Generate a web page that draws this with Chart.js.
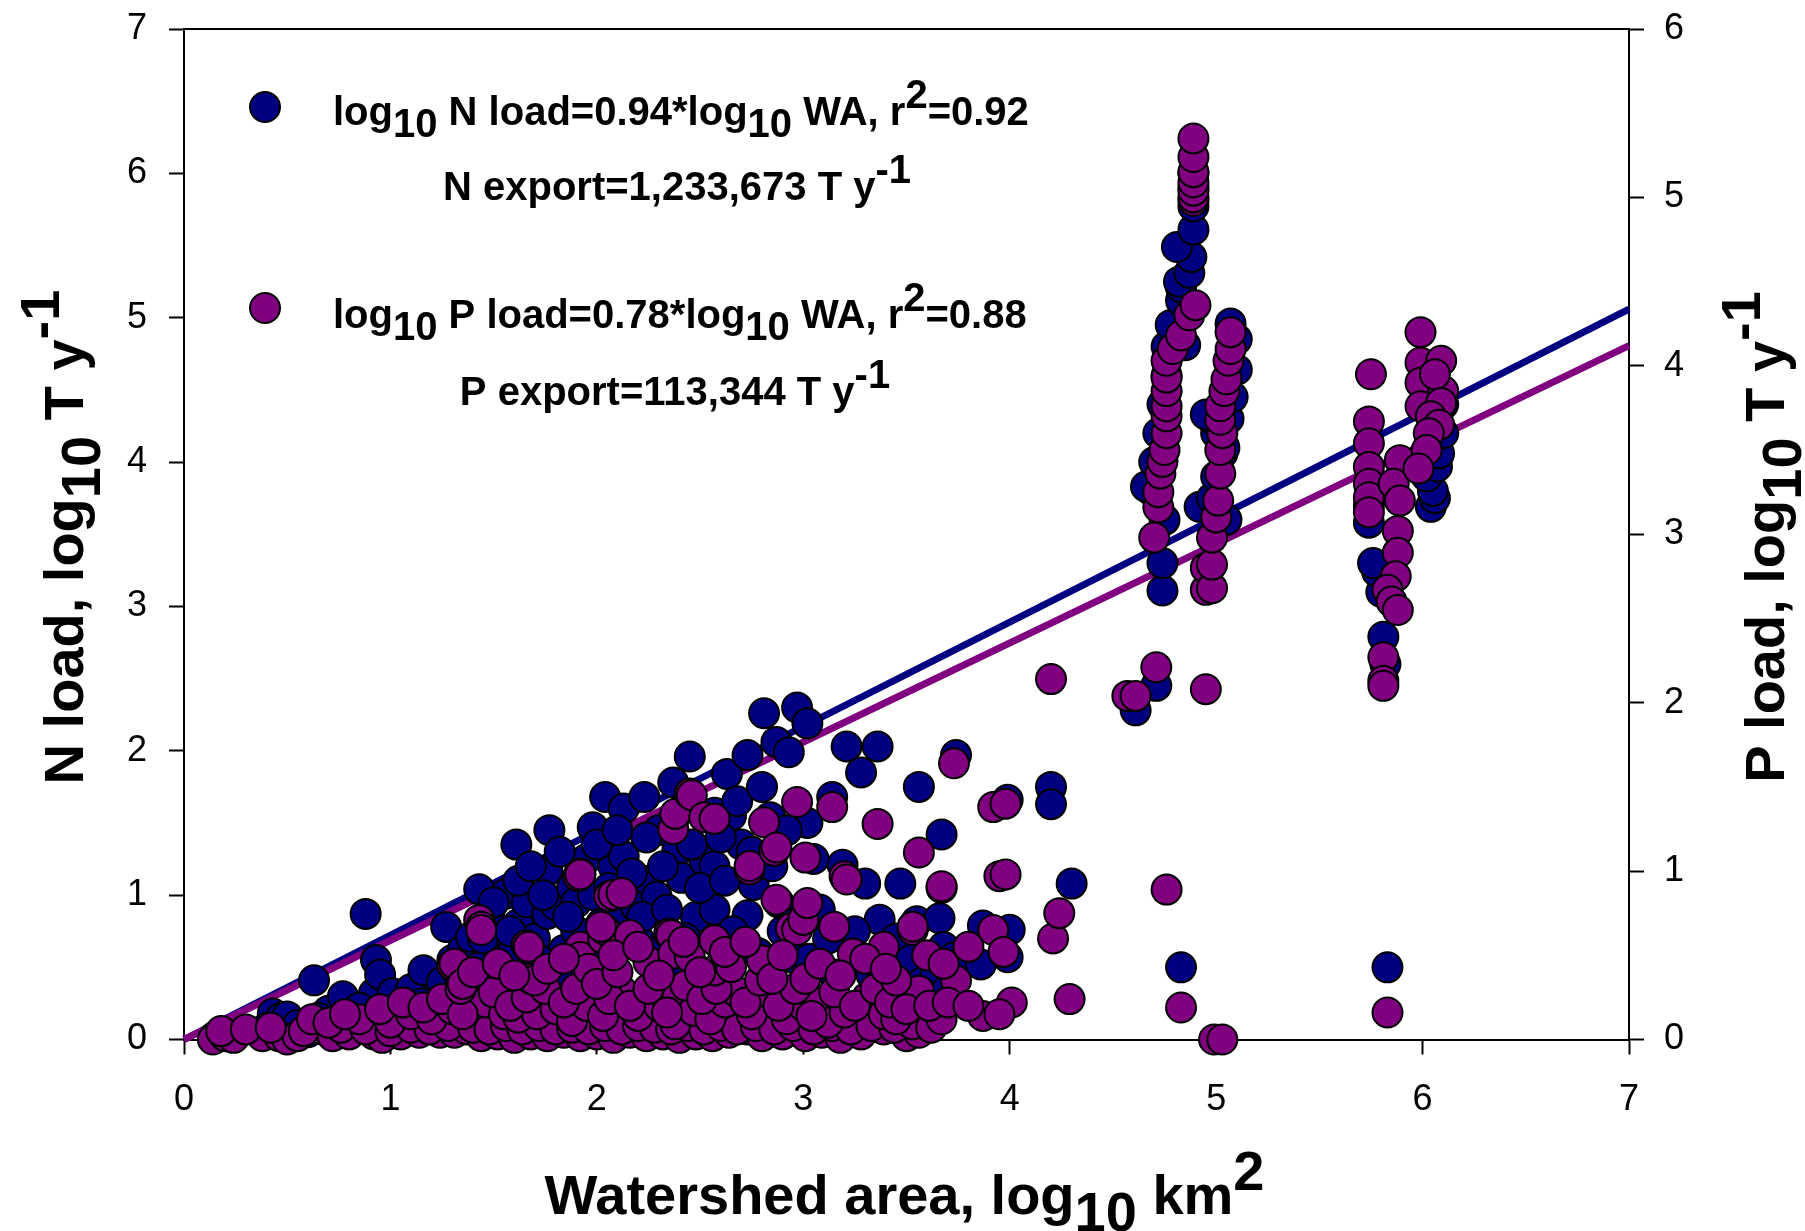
<!DOCTYPE html>
<html>
<head>
<meta charset="utf-8">
<title>N and P load vs watershed area</title>
<script src="https://cdn.jsdelivr.net/npm/chart.js@4.4.0/dist/chart.umd.min.js"></script>
<style>
html, body { margin: 0; padding: 0; background: #fff; }
#wrap { width: 1805px; height: 1231px; }
</style>
</head>
<body>
<div id="wrap"><canvas id="loadChart" width="1805" height="1231"></canvas></div>
<script>
// axis ticks
var xTicks = [0, 1, 2, 3, 4, 5, 6, 7];
var nTicks = [0, 1, 2, 3, 4, 5, 6, 7];
var pTicks = [0, 1, 2, 3, 4, 5, 6];

// fitted lines (x = log10 WA)
var fitX = [0, 7];
var nFit = [0, 5.06];   // left axis
var pFit = [0, 4.12];   // right axis

// N load, [log10 WA, log10 T/y] - small and mid sized watersheds
var nCloud = [
  [0.15,0.02],[0.25,0.03],[0.43,0.18],[0.47,0.15],[0.50,0.16],[0.55,0.10],[0.60,0.05],[0.63,0.41],
  [0.70,0.20],[0.77,0.30],[0.88,0.87],[0.92,0.32],[0.93,0.55],[0.95,0.45],[1.01,0.32],[1.05,0.20],
  [1.10,0.35],[1.16,0.48],[1.20,0.10],[1.22,0.30],[1.27,0.78],[1.30,0.55],[1.35,0.62],[1.39,0.71],
  [1.43,1.04],[1.43,0.50],[1.48,0.85],[1.50,0.20],[1.53,0.60],[1.56,1.01],[1.56,0.50],[1.59,0.60],
  [1.61,1.35],[1.62,0.80],[1.66,0.95],[1.70,0.70],[1.76,1.17],[1.76,0.87],[1.77,1.45],[1.80,0.93],
  [1.80,0.30],[1.84,0.62],[1.88,1.05],[1.90,0.75],[1.90,0.95],[1.95,1.25],[1.98,1.47],[2.00,0.20],
  [2.02,0.80],[2.04,1.68],[2.08,1.20],[2.10,0.88],[2.13,1.60],[2.13,1.27],[2.15,1.00],[2.19,0.92],
  [2.20,0.70],[2.23,1.68],[2.25,1.10],[2.29,0.99],[2.30,1.45],[2.35,0.50],[2.37,1.78],[2.39,1.31],
  [2.40,0.30],[2.41,1.12],[2.45,1.96],[2.48,0.85],[2.52,1.24],[2.57,1.57],[2.57,1.20],[2.57,0.90],
  [2.60,0.65],[2.63,1.84],[2.65,1.55],[2.70,1.35],[2.70,0.25],[2.73,1.97],[2.73,0.86],[2.76,1.07],
  [2.81,2.26],[2.84,1.54],[2.87,2.06],[2.90,0.75],[2.93,1.99],[2.96,0.56],[2.97,2.30],[3.02,2.19],
  [3.02,1.50],[3.03,0.56],[3.08,0.90],[3.10,0.20],[3.14,1.68],[3.19,1.21],[3.21,2.03],[3.28,1.85],
  [3.30,1.08],[3.36,2.03],[3.37,0.83],[3.40,0.20],[3.40,0.60],[3.42,0.53],[3.47,1.08],[3.50,0.35],
  [3.55,0.82],[3.56,1.75],[3.62,0.56],[3.66,0.84],[3.67,1.42],[3.68,0.64],[3.73,0.57],[3.74,1.97],
  [3.77,0.54],[3.86,0.52],[3.87,0.79],[3.99,0.57],[3.99,1.66],[4.00,0.76],[4.20,1.75],[4.20,1.63],
  [4.30,1.08],
  [1.25,0.40],[1.33,0.45],[1.38,0.35],[1.45,0.70],[1.50,0.95],[1.52,0.40],[1.58,0.75],[1.62,1.10],
  [1.65,0.45],[1.68,1.20],[1.72,0.55],[1.74,1.00],[1.82,1.30],[1.85,0.45],[1.86,0.85],[1.92,1.15],
  [1.94,0.60],[1.98,1.00],[2.00,1.35],[2.05,0.55],[2.06,1.05],[2.10,1.45],[2.12,0.65],[2.17,1.15],
  [2.22,0.85],[2.24,1.40],[2.27,0.60],[2.32,1.20],[2.34,0.90],[2.38,1.55],[2.43,0.70],[2.46,1.35],
  [2.50,1.05],[2.55,0.45],[2.60,1.40],[2.62,1.10],[2.66,0.75],[2.68,1.65],[2.75,1.30],[2.78,0.60],
  [2.80,1.75],[2.85,1.20],[2.88,0.95],[2.92,1.45],[2.95,0.80],[3.05,1.25],[3.12,0.70],[3.15,0.45],
  [3.25,0.75],[3.33,0.45],[3.45,0.70],[3.52,0.55],[3.58,0.40],[3.64,0.45],[3.70,0.35],[1.15,0.25],
  [1.00,0.15],[0.85,0.22],[0.80,0.10],[0.65,0.15],[0.40,0.08]
];

// N load - large rivers
var nRivers = [
  [4.61,2.28],[4.71,2.45],[4.83,0.50],[5.83,0.50],
  [4.74,3.11],[4.74,3.30],[4.75,3.60],[4.69,3.80],[4.66,3.83],[4.70,4.00],[4.72,4.20],[4.74,4.40],
  [4.76,4.60],[4.76,4.80],[4.85,4.81],[4.78,4.95],[4.83,5.12],[4.83,5.21],[4.82,5.25],[4.87,5.31],
  [4.88,5.42],[4.81,5.49],[4.89,5.61],[4.89,5.77],[4.89,5.90],[4.89,6.00],
  [4.92,3.69],[4.98,3.75],[5.05,3.60],[5.00,3.90],[5.03,4.06],[5.04,4.10],[5.00,4.20],[4.98,4.30],
  [5.06,4.30],[4.95,4.33],[5.08,4.45],[5.10,4.64],[5.10,4.85],[5.07,4.96],
  [5.82,2.60],[5.81,2.79],[5.80,3.10],[5.78,3.24],[5.76,3.30],[5.74,3.58],[5.74,3.70],
  [6.04,3.69],[6.06,3.75],[6.05,3.80],[6.02,3.90],[6.07,3.97],[6.08,4.06],[6.10,4.20],[6.10,4.40],
  [6.09,4.50]
];

// P load, [log10 WA, log10 T/y] - small and mid sized watersheds
var pCloud = [
  [0.14,0.00],[0.20,0.02],[0.24,0.01],[0.38,0.02],[0.46,0.02],[0.50,0.00],[0.55,0.02],[0.67,0.06],
  [0.72,0.02],[0.80,0.03],[0.92,0.03],[0.96,0.01],[1.05,0.03],[1.14,0.04],[1.24,0.04],[1.31,0.04],
  [1.37,0.06],[1.44,0.02],[1.52,0.03],[1.60,0.01],[1.68,0.03],[1.76,0.02],[1.84,0.04],[1.92,0.02],
  [2.00,0.03],[2.08,0.01],[2.16,0.04],[2.24,0.02],[2.32,0.03],[2.40,0.01],[2.48,0.03],[2.56,0.02],
  [2.64,0.04],[2.73,0.06],[2.80,0.02],[2.90,0.03],[3.01,0.02],[3.09,0.04],[3.18,0.01],[3.28,0.03],
  [3.39,0.06],[3.50,0.02],[3.56,0.04],
  [0.18,0.05],[0.30,0.06],[0.42,0.07],[0.58,0.05],[0.76,0.07],[0.88,0.06],[1.00,0.05],[1.10,0.07],
  [1.19,0.06],[1.28,0.08],[1.40,0.07],[1.48,0.06],[1.56,0.08],[1.64,0.06],[1.72,0.08],[1.80,0.06],
  [1.88,0.07],[1.96,0.06],[2.04,0.08],[2.12,0.06],[2.20,0.08],[2.28,0.07],[2.36,0.06],[2.44,0.08],
  [2.52,0.06],[2.60,0.08],[2.68,0.06],[2.77,0.08],[2.86,0.06],[2.95,0.08],[3.05,0.06],[3.14,0.08],
  [3.23,0.06],[3.33,0.08],[3.44,0.07],[3.53,0.09],[3.62,0.07],
  [0.62,0.12],[0.70,0.10],[0.85,0.12],[1.00,0.10],[1.10,0.15],[1.20,0.12],[1.30,0.18],[1.41,0.23],
  [1.46,0.22],[1.55,0.15],[1.62,0.13],[1.71,0.15],[1.80,0.18],[1.88,0.11],[1.95,0.20],[2.03,0.14],
  [2.12,0.29],[2.20,0.14],[2.30,0.20],[2.38,0.09],[2.39,0.25],[2.47,0.17],[2.55,0.12],[2.62,0.22],
  [2.68,0.28],[2.75,0.15],[2.83,0.28],[2.92,0.12],[3.00,0.20],[3.06,0.22],[3.12,0.10],[3.20,0.16],
  [3.31,0.25],[3.39,0.15],[3.45,0.12],[3.56,0.29],[3.67,0.12],[3.74,0.35],[3.87,0.14],[4.01,0.22],
  [4.29,0.24],
  [0.78,0.15],[0.95,0.18],[1.06,0.22],[1.16,0.19],[1.25,0.24],[1.35,0.15],[1.50,0.28],[1.58,0.20],
  [1.66,0.25],[1.75,0.30],[1.84,0.22],[1.90,0.30],[2.06,0.24],[2.16,0.20],[2.25,0.30],[2.34,0.16],
  [2.43,0.32],[2.51,0.24],[2.58,0.30],[2.72,0.22],[2.79,0.35],[2.88,0.20],[2.96,0.30],[3.04,0.14],
  [3.15,0.28],[3.25,0.20],[3.35,0.30],[3.42,0.22],[3.50,0.18],[3.61,0.20],[3.70,0.22],[3.80,0.20],
  [3.95,0.15],
  [1.30,0.44],[1.31,0.45],[1.34,0.30],[1.35,0.33],[1.43,0.71],[1.44,0.67],[1.44,0.65],[1.66,0.56],
  [1.67,0.55],[1.68,0.36],[1.70,0.35],[1.92,0.55],[1.92,0.49],[1.96,0.42],[2.00,0.33],[2.03,0.60],
  [2.04,0.65],[2.10,0.40],[2.16,0.62],[2.02,0.67],[2.25,0.46],[2.35,0.63],[2.36,0.62],[2.37,0.51],
  [2.45,0.49],[2.57,0.59],[2.57,0.41],[2.65,0.43],[2.80,0.47],[2.85,0.36],[2.94,0.66],[2.97,0.65],
  [3.00,0.71],[3.01,0.36],[3.15,0.67],[3.24,0.51],[3.39,0.55],[3.45,0.35],[3.53,0.65],[3.53,0.67],
  [3.92,0.65],[3.97,0.52],[4.21,0.60],[4.24,0.75],
  [1.40,0.40],[1.52,0.45],[1.60,0.38],[1.76,0.42],[1.84,0.48],[2.08,0.50],[2.20,0.55],[2.30,0.38],
  [2.42,0.58],[2.50,0.40],[2.62,0.52],[2.72,0.58],[2.90,0.50],[3.08,0.45],[3.18,0.38],[3.30,0.48],
  [3.40,0.42],[3.60,0.50],[3.68,0.45],[3.80,0.55],
  [1.91,0.97],[1.92,0.98],[2.06,0.85],[2.08,0.86],[2.12,0.87],[2.37,1.25],[2.38,1.34],[2.45,1.46],
  [2.46,1.45],[2.52,1.32],[2.57,1.31],[2.74,1.01],[2.74,1.03],[2.81,1.29],[2.86,1.12],[2.87,1.14],
  [2.87,0.83],[2.97,1.41],[3.01,1.08],[3.02,0.81],[3.14,1.38],[3.20,0.97],[3.21,0.95],[3.36,1.28],
  [3.56,1.11],[3.67,0.90],[3.67,0.91],[3.73,1.64],[3.92,1.38],[3.95,0.97],[3.98,1.40],[3.98,0.98]
];

// P load - large rivers
var pRivers = [
  [4.20,2.14],[4.57,2.04],[4.61,2.04],[4.71,2.21],[4.95,2.08],[4.99,0.00],[5.03,0.00],[4.76,0.89],
  [4.83,0.19],[5.83,0.16],
  [4.70,2.98],[4.72,3.16],[4.72,3.25],[4.73,3.36],[4.74,3.43],[4.75,3.50],[4.76,3.60],[4.76,3.70],
  [4.76,3.76],[4.76,3.85],[4.76,3.93],[4.76,4.03],[4.79,4.10],[4.83,4.18],[4.87,4.30],[4.90,4.36],
  [4.89,4.98],[4.89,5.00],[4.89,5.04],[4.89,5.09],[4.89,5.15],[4.89,5.24],[4.89,5.35],
  [4.95,2.67],[4.95,2.80],[4.98,2.68],[4.98,2.82],[4.98,2.98],[5.00,3.10],[5.01,3.20],[5.02,3.36],
  [5.02,3.50],[5.03,3.60],[5.02,3.68],[5.02,3.76],[5.04,3.85],[5.05,3.92],[5.06,4.03],[5.07,4.10],
  [5.07,4.20],
  [5.75,3.95],[5.74,3.67],[5.74,3.54],[5.74,3.40],[5.74,3.30],[5.74,3.22],[5.74,3.13],[5.89,3.44],
  [5.86,3.30],[5.89,3.20],[5.88,3.02],[5.88,2.89],[5.87,2.75],[5.83,2.67],[5.85,2.60],[5.88,2.55],
  [5.81,2.27],[5.81,2.13],[5.81,2.10],
  [5.99,4.20],[5.99,4.02],[6.09,4.03],[6.07,3.87],[5.99,3.90],[6.10,3.85],[6.06,3.95],[5.99,3.76],
  [6.09,3.78],[6.04,3.70],[6.08,3.65],[6.03,3.60],[6.02,3.50],[5.98,3.39]
];

var FONT = "'Liberation Sans', Arial, Helvetica, sans-serif";
var NAVY = '#000080';
var PURPLE = '#800080';

function toXY(list) {
  return list.map(function (p) { return { x: p[0], y: p[1] }; });
}

function fitLine(ys) {
  return fitX.map(function (x, i) { return { x: x, y: ys[i] }; });
}

// text runs: [text, 0 normal | 1 subscript | -1 superscript]
function drawRich(ctx, parts, x, y, size, align) {
  ctx.font = 'bold ' + size + 'px ' + FONT;
  ctx.textBaseline = 'alphabetic';
  ctx.textAlign = 'left';
  var total = 0;
  parts.forEach(function (p) { total += ctx.measureText(p[0]).width; });
  var cx = align === 'center' ? x - total / 2 : x;
  parts.forEach(function (p) {
    var dy = p[1] === 1 ? size * 0.3 : (p[1] === -1 ? -size * 0.42 : 0);
    ctx.fillText(p[0], cx, y + dy);
    cx += ctx.measureText(p[0]).width;
  });
}

function dot(ctx, x, y, color) {
  ctx.beginPath();
  ctx.arc(x, y, 15, 0, Math.PI * 2);
  ctx.fillStyle = color;
  ctx.fill();
  ctx.lineWidth = 2;
  ctx.strokeStyle = '#000';
  ctx.stroke();
}

// frame top line, legend box text and the axis titles
var decorations = {
  id: 'decorations',
  afterDraw: function (chart) {
    var ctx = chart.ctx;
    var a = chart.chartArea;
    ctx.save();
    ctx.strokeStyle = '#000';
    ctx.lineWidth = 2;
    ctx.beginPath();
    ctx.moveTo(a.left, a.top);
    ctx.lineTo(a.right, a.top);
    ctx.stroke();

    dot(ctx, a.left + 81, a.top + 78, NAVY);
    dot(ctx, a.left + 81, a.top + 279, PURPLE);
    ctx.fillStyle = '#000';
    drawRich(ctx, [['log', 0], ['10', 1], [' N load=0.94*log', 0], ['10', 1], [' WA, r', 0], ['2', -1], ['=0.92', 0]],
      a.left + 149, a.top + 96, 40, 'left');
    drawRich(ctx, [['N export=1,233,673 T y', 0], ['-1', -1]], a.left + 493, a.top + 171, 40, 'center');
    drawRich(ctx, [['log', 0], ['10', 1], [' P load=0.78*log', 0], ['10', 1], [' WA, r', 0], ['2', -1], ['=0.88', 0]],
      a.left + 149, a.top + 299, 40, 'left');
    drawRich(ctx, [['P export=113,344 T y', 0], ['-1', -1]], a.left + 491, a.top + 376, 40, 'center');

    // x title
    drawRich(ctx, [['Watershed area, log', 0], ['10', 1], [' km', 0], ['2', -1]],
      (a.left + a.right) / 2 - 2, 1214, 56, 'center');

    // left title
    ctx.save();
    ctx.translate(83, 537);
    ctx.rotate(-Math.PI / 2);
    drawRich(ctx, [['N load, log', 0], ['10', 1], [' T y', 0], ['-1', -1]], 0, 0, 56, 'center');
    ctx.restore();

    // right title
    ctx.save();
    ctx.translate(1784, 537);
    ctx.rotate(-Math.PI / 2);
    drawRich(ctx, [['P load, log', 0], ['10', 1], [' T y', 0], ['-1', -1]], 0, 0, 56, 'center');
    ctx.restore();
    ctx.restore();
  }
};

function axisStyle(ticks, pad) {
  return {
    min: ticks[0],
    max: ticks[ticks.length - 1],
    afterBuildTicks: function (s) { s.ticks = ticks.map(function (v) { return { value: v }; }); },
    ticks: { font: { family: FONT, size: 36 }, color: '#000', padding: pad, maxRotation: 0 },
    grid: { display: true, drawOnChartArea: false, drawTicks: true, tickLength: 15, tickWidth: 2, tickColor: '#000', color: '#000' },
    border: { display: true, color: '#000', width: 2 }
  };
}

var xAxis = axisStyle(xTicks, 24);
xAxis.type = 'linear';
xAxis.position = 'bottom';
xAxis.afterFit = function (s) { s.height = 191.5; s.paddingLeft = 0; s.paddingRight = 0; };

var yAxis = axisStyle(nTicks, 22);
yAxis.type = 'linear';
yAxis.position = 'left';
yAxis.afterFit = function (s) { s.width = 184; s.paddingTop = 0; s.paddingBottom = 0; };

var y2Axis = axisStyle(pTicks, 20);
y2Axis.type = 'linear';
y2Axis.position = 'right';
y2Axis.afterFit = function (s) { s.width = 176; s.paddingTop = 0; s.paddingBottom = 0; };

var ctxS = document.getElementById('loadChart').getContext('2d');
var loadChart = new Chart(ctxS, {
  type: 'scatter',
  data: {
    datasets: [
      {
        type: 'line', label: 'N fit', data: fitLine(nFit), yAxisID: 'y',
        borderColor: NAVY, borderWidth: 7, pointRadius: 0, fill: false, order: 4, clip: false
      },
      {
        type: 'line', label: 'P fit', data: fitLine(pFit), yAxisID: 'y2',
        borderColor: PURPLE, borderWidth: 7, pointRadius: 0, fill: false, order: 3, clip: false
      },
      {
        label: 'N load', data: toXY(nCloud.concat(nRivers)), yAxisID: 'y',
        backgroundColor: NAVY, borderColor: '#000', borderWidth: 2, pointRadius: 15, order: 2, clip: false
      },
      {
        label: 'P load', data: toXY(pCloud.concat(pRivers)), yAxisID: 'y2',
        backgroundColor: PURPLE, borderColor: '#000', borderWidth: 2, pointRadius: 15, order: 1, clip: false
      }
    ]
  },
  options: {
    responsive: false,
    devicePixelRatio: 1,
    animation: false,
    events: [],
    layout: { padding: { top: 29, left: 0, right: 0, bottom: 0 } },
    plugins: { legend: { display: false }, tooltip: { enabled: false } },
    scales: { x: xAxis, y: yAxis, y2: y2Axis }
  },
  plugins: [decorations]
});
</script>
</body>
</html>
